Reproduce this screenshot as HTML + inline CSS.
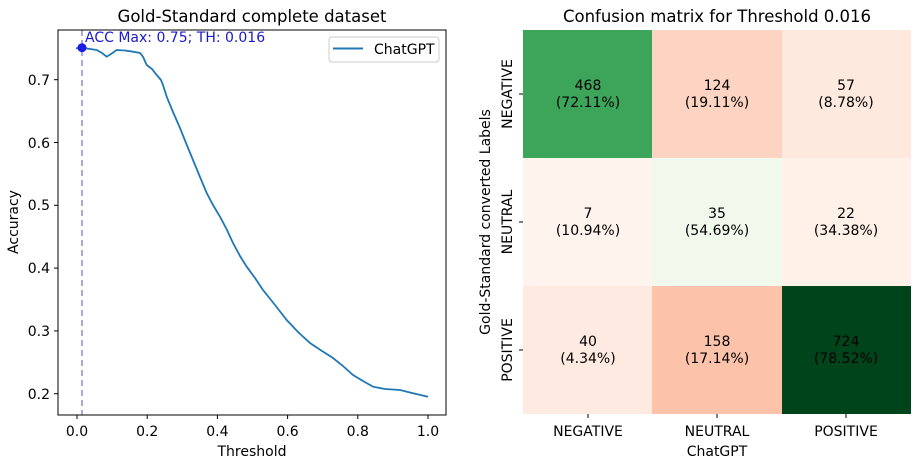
<!DOCTYPE html><html><head><style>body{margin:0;background:#fff}svg{font-family:"DejaVu Sans","Liberation Sans",sans-serif}</style></head><body>
<svg width="917" height="465" xmlns="http://www.w3.org/2000/svg">
<rect width="917" height="465" fill="#fff"/>
<text x="252" y="22" font-size="16.5" text-anchor="middle">Gold-Standard complete dataset</text>
<line x1="82" y1="30" x2="82" y2="415" stroke="#8b8bd8" stroke-width="1.5" stroke-dasharray="6,4"/>
<polyline fill="none" stroke="#1f77b4" stroke-width="1.8" points="76,48.3 82,47.7 90,49 96.7,50 102,53 106.7,56.7 111,54 116.7,50 125,50.5 133,51.7 140,53 143,56.7 146.7,65 152,69 156.7,75 161,80 163,85 166.7,96.7 173,112 180,128 186,143 193,160 200,177 206.7,193 213,205 220,216.7 227,230 233,243 240,256 246.7,266.7 255,278 263,290 275,305 286.7,320 298,332 310,343 322,351 333,358 343,366 353,375 363,381 373,386.7 385,389 400,390 412,393 428,396.7"/>
<circle cx="82" cy="47.7" r="4.5" fill="#1a1ae6"/>
<text x="85" y="42" font-size="14" fill="#1a1acc">ACC Max: 0.75; TH: 0.016</text>
<rect x="58" y="30" width="388" height="385" fill="none" stroke="#000" stroke-width="1"/>
<rect x="329" y="37" width="110" height="25" rx="3" fill="#fff" stroke="#ccc"/>
<line x1="333" y1="48.5" x2="363" y2="48.5" stroke="#1f77b4" stroke-width="2"/>
<text x="374" y="54" font-size="14">ChatGPT</text>
<g font-size="14" text-anchor="end">
<text x="50" y="85">0.7</text><text x="50" y="148">0.6</text><text x="50" y="210">0.5</text><text x="50" y="273">0.4</text><text x="50" y="336">0.3</text><text x="50" y="399">0.2</text></g>
<g stroke="#000"><line x1="54" y1="79.7" x2="58" y2="79.7"/><line x1="54" y1="142.5" x2="58" y2="142.5"/><line x1="54" y1="205.3" x2="58" y2="205.3"/><line x1="54" y1="268.1" x2="58" y2="268.1"/><line x1="54" y1="330.9" x2="58" y2="330.9"/><line x1="54" y1="393.7" x2="58" y2="393.7"/>
<line x1="77" y1="415" x2="77" y2="419"/><line x1="147.2" y1="415" x2="147.2" y2="419"/><line x1="217.4" y1="415" x2="217.4" y2="419"/><line x1="287.6" y1="415" x2="287.6" y2="419"/><line x1="357.8" y1="415" x2="357.8" y2="419"/><line x1="428" y1="415" x2="428" y2="419"/></g>
<g font-size="14" text-anchor="middle">
<text x="77" y="436">0.0</text><text x="147.2" y="436">0.2</text><text x="217.4" y="436">0.4</text><text x="287.6" y="436">0.6</text><text x="357.8" y="436">0.8</text><text x="428" y="436">1.0</text>
<text x="252" y="456">Threshold</text></g>
<text transform="translate(18,222) rotate(-90)" font-size="14" text-anchor="middle">Accuracy</text>

<text x="717" y="22" font-size="16.5" text-anchor="middle">Confusion matrix for Threshold 0.016</text>
<rect x="523" y="30" width="130" height="128" fill="#3ca55a"/>
<rect x="652" y="30" width="130" height="128" fill="#fdd3c1"/>
<rect x="782" y="30" width="129" height="128" fill="#fee9df"/>
<rect x="523" y="158" width="130" height="128" fill="#fff3ed"/>
<rect x="652" y="158" width="130" height="128" fill="#f0f9ec"/>
<rect x="782" y="158" width="129" height="128" fill="#fff0e8"/>
<rect x="523" y="286" width="130" height="128" fill="#feeae1"/>
<rect x="652" y="286" width="130" height="128" fill="#fcc2aa"/>
<rect x="782" y="286" width="129" height="128" fill="#00441b"/>
<g font-size="14" text-anchor="middle">
<text x="588" y="90">468</text><text x="588" y="107">(72.11%)</text>
<text x="717" y="90">124</text><text x="717" y="107">(19.11%)</text>
<text x="846" y="90">57</text><text x="846" y="107">(8.78%)</text>
<text x="588" y="218">7</text><text x="588" y="235">(10.94%)</text>
<text x="717" y="218">35</text><text x="717" y="235">(54.69%)</text>
<text x="846" y="218">22</text><text x="846" y="235">(34.38%)</text>
<text x="588" y="346">40</text><text x="588" y="363">(4.34%)</text>
<text x="717" y="346">158</text><text x="717" y="363">(17.14%)</text>
<text x="846" y="346">724</text><text x="846" y="363">(78.52%)</text>
<text x="588" y="436">NEGATIVE</text><text x="717" y="436">NEUTRAL</text><text x="846" y="436">POSITIVE</text>
<text x="717" y="456">ChatGPT</text></g>
<g stroke="#000"><line x1="588" y1="414" x2="588" y2="418"/><line x1="717" y1="414" x2="717" y2="418"/><line x1="846" y1="414" x2="846" y2="418"/>
<line x1="519" y1="94" x2="523" y2="94"/><line x1="519" y1="222" x2="523" y2="222"/><line x1="519" y1="350" x2="523" y2="350"/></g>
<g font-size="14" text-anchor="middle">
<text transform="translate(512,94) rotate(-90)">NEGATIVE</text>
<text transform="translate(512,222) rotate(-90)">NEUTRAL</text>
<text transform="translate(512,350) rotate(-90)">POSITIVE</text>
<text transform="translate(490,222) rotate(-90)">Gold-Standard converted Labels</text></g>
</svg></body></html>
